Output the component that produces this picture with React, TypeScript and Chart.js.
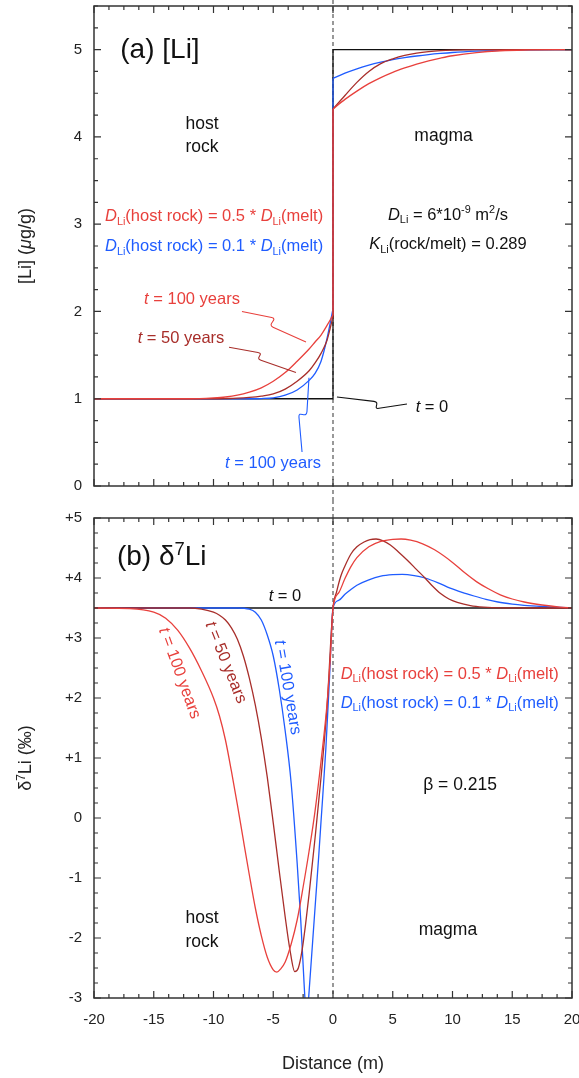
import React, { useEffect, useRef } from 'react';
import { Chart, registerables } from 'chart.js';

Chart.register(...registerables);

const FONT = '"Liberation Sans", Arial, Helvetica, sans-serif';
const RED = '#e8403c';
const DARK = '#a82e2a';
const BLUE = '#1f5cff';
const BLACK = '#111111';

// ---------- Panel (a): [Li] (µg/g) ----------
const liLeftX = [-20, -12, -10, -9, -8, -7, -6, -5, -4, -3, -2, -1.5, -1, -0.5, 0];
const liRed100Left = [1, 1, 1.01, 1.02, 1.04, 1.075, 1.125, 1.2, 1.3, 1.43, 1.57, 1.65, 1.73, 1.84, 1.96];
const liDark50Left = [1, 1, 1, 1.002, 1.006, 1.015, 1.03, 1.055, 1.11, 1.2, 1.32, 1.41, 1.52, 1.67, 1.94];
const liBlue100Left = [1, 1, 1, 1, 1, 1, 1.002, 1.01, 1.04, 1.1, 1.21, 1.29, 1.43, 1.69, 2.03];

const liRightX = [0, 1, 2, 3, 4, 5, 6, 7, 8, 9, 10, 12, 14, 16, 20];
const liRed100Right = [4.32, 4.43, 4.525, 4.61, 4.68, 4.74, 4.79, 4.835, 4.872, 4.903, 4.93, 4.966, 4.987, 4.996, 5];
const liDark50Right = [4.32, 4.475, 4.625, 4.75, 4.84, 4.895, 4.935, 4.96, 4.977, 4.988, 4.994, 4.999, 5, 5, 5];
const liBlue100Right = [4.67, 4.73, 4.78, 4.822, 4.856, 4.885, 4.908, 4.927, 4.943, 4.956, 4.967, 4.982, 4.992, 4.997, 5];

const liT0X = [-20, 0, 0, 20];
const liT0Y = [1, 1, 5, 5];

// ---------- Panel (b): δ7Li (‰) ----------
const dRedX = [-20, -17, -15, -14, -13, -12, -11, -10, -9.5, -9, -8.5, -8, -7.5, -7, -6.5, -6, -5.5, -5, -4.7, -4.4, -4, -3.5, -3, -2.5, -2, -1.5, -1, -0.5, -0.2, 0, 0.5, 1, 1.5, 2, 3, 4, 5, 5.7, 6.5, 7.5, 8.5, 10, 11, 12, 13, 14, 15, 16, 17.5, 19, 20];
const dRedY = [3.5, 3.49, 3.43, 3.33, 3.13, 2.83, 2.45, 2.0, 1.7, 1.3, 0.78, 0.22, -0.37, -0.95, -1.5, -1.96, -2.32, -2.53, -2.57, -2.52, -2.4, -2.1, -1.7, -1.15, -0.55, 0.12, 0.95, 1.9, 2.75, 3.5, 3.76, 3.99, 4.19, 4.34, 4.52, 4.61, 4.645, 4.65, 4.63, 4.57, 4.47, 4.26, 4.09, 3.94, 3.82, 3.72, 3.65, 3.6, 3.55, 3.515, 3.5];

const dDarkX = [-20, -12, -11, -10, -9.5, -9, -8.5, -8, -7.5, -7, -6.5, -6, -5.5, -5, -4.5, -4, -3.6, -3.2, -2.9, -2.6, -2.3, -2, -1.5, -1, -0.5, 0, 0.3, 0.65, 1, 1.5, 2, 2.6, 3.1, 3.6, 4.2, 4.8, 5.5, 6.2, 7, 7.7, 8.3, 9, 9.7, 10.4, 11.5, 12.6, 14, 20];
const dDarkY = [3.5, 3.5, 3.48, 3.43, 3.38, 3.3, 3.17, 2.98, 2.7, 2.33, 1.88, 1.33, 0.68, -0.08, -0.88, -1.65, -2.2, -2.56, -2.5, -2.22, -1.78, -1.27, -0.33, 0.68, 1.85, 3.5, 3.77, 4.03, 4.2, 4.4, 4.52, 4.6, 4.64, 4.65, 4.62, 4.55, 4.43, 4.3, 4.14, 4.0, 3.87, 3.74, 3.65, 3.595, 3.54, 3.515, 3.503, 3.5];

const dBlueX = [-20, -8, -7, -6.5, -6, -5.5, -5, -4.5, -4, -3.5, -3, -2.7, -2.5, -2.35, -2.22, -2.1, -1.95, -1.7, -1.45, -1.2, -1, -0.6, -0.3, 0, 0.5, 1, 1.5, 2, 3, 4, 5, 5.8, 6.8, 7.7, 8.8, 9.8, 10.8, 11.8, 12.8, 13.8, 15, 16, 17.5, 19, 20];
const dBlueY = [3.5, 3.5, 3.48, 3.43, 3.3, 3.05, 2.7, 2.15, 1.45, 0.58, -0.75, -1.7, -2.45, -3.0, -3.3, -3.15, -2.75, -2.05, -1.35, -0.65, -0.05, 1.15, 2.3, 3.5, 3.63, 3.73, 3.81, 3.88, 3.97, 4.03, 4.055, 4.06, 4.04, 4.0, 3.92, 3.83, 3.76, 3.7, 3.645, 3.6, 3.565, 3.545, 3.525, 3.51, 3.5];

const dT0X = [-20, 20];
const dT0Y = [3.5, 3.5];

// axis ranges / ticks
const xRange = [-20, 20];
const xLabelStep = 5;
const xMinorStep = 1.25;
const yRangeA = [0, 5.5];
const yRangeB = [-3, 5];
const yLabelStep = 1;
const yMinorStep = 0.25;

type Seg = { t: string; s?: 'i' | 'sub' | 'sup' };
type Note = { segs: Seg[]; x: number; y: number; size: number; color: string; align: 'left' | 'center'; rot?: number };
type Leader = { pts: number[][]; color: string };

const dHost = (f: string): Seg[] => [
  { t: 'D', s: 'i' }, { t: 'Li', s: 'sub' }, { t: `(host rock) = ${f} * ` }, { t: 'D', s: 'i' }, { t: 'Li', s: 'sub' }, { t: '(melt)' },
];
const tLab = (rest: string): Seg[] => [{ t: 't', s: 'i' }, { t: rest }];

const notesA: Note[] = [
  { segs: [{ t: '(a) [Li]' }], x: -17.8, y: 5.02, size: 28, color: BLACK, align: 'left' },
  { segs: [{ t: 'host' }], x: -10.96, y: 4.165, size: 17.5, color: BLACK, align: 'center' },
  { segs: [{ t: 'rock' }], x: -10.96, y: 3.9, size: 17.5, color: BLACK, align: 'center' },
  { segs: [{ t: 'magma' }], x: 9.25, y: 4.02, size: 17.5, color: BLACK, align: 'center' },
  { segs: [{ t: 'D', s: 'i' }, { t: 'Li', s: 'sub' }, { t: ' = 6*10' }, { t: '-9', s: 'sup' }, { t: ' m' }, { t: '2', s: 'sup' }, { t: '/s' }], x: 9.62, y: 3.12, size: 16.5, color: BLACK, align: 'center' },
  { segs: [{ t: 'K', s: 'i' }, { t: 'Li', s: 'sub' }, { t: '(rock/melt) = 0.289' }], x: 9.62, y: 2.78, size: 16.5, color: BLACK, align: 'center' },
  { segs: dHost('0.5'), x: -19.08, y: 3.1, size: 16.5, color: RED, align: 'left' },
  { segs: dHost('0.1'), x: -19.08, y: 2.76, size: 16.5, color: BLUE, align: 'left' },
  { segs: tLab(' = 100 years'), x: -11.8, y: 2.155, size: 16.5, color: RED, align: 'center' },
  { segs: tLab(' = 50 years'), x: -12.72, y: 1.71, size: 16.5, color: DARK, align: 'center' },
  { segs: tLab(' = 100 years'), x: -5.02, y: 0.278, size: 16.5, color: BLUE, align: 'center' },
  { segs: tLab(' = 0'), x: 6.92, y: 0.915, size: 16.5, color: BLACK, align: 'left' },
];

const leadersA: Leader[] = [
  { pts: [[-7.62, 2.0], [-5.13, 1.93], [-5.02, 1.82], [-2.26, 1.65]], color: RED },
  { pts: [[-8.7, 1.59], [-6.28, 1.53], [-6.03, 1.44], [-3.1, 1.3]], color: DARK },
  { pts: [[0.33, 1.02], [3.43, 0.97], [3.85, 0.89], [6.19, 0.94]], color: BLACK },
  { pts: [[-2.59, 0.39], [-2.85, 0.79], [-2.18, 0.85], [-2.01, 1.24]], color: BLUE },
];

const notesB: Note[] = [
  { segs: [{ t: '(b) δ' }, { t: '7', s: 'sup' }, { t: 'Li' }], x: -18.08, y: 4.38, size: 28, color: BLACK, align: 'left' },
  { segs: tLab(' = 0'), x: -4.02, y: 3.72, size: 16.5, color: BLACK, align: 'center' },
  { segs: tLab(' = 100 years'), x: -12.74, y: 2.42, size: 16.5, color: RED, align: 'center', rot: 70 },
  { segs: tLab(' = 50 years'), x: -8.87, y: 2.6, size: 16.5, color: DARK, align: 'center', rot: 68 },
  { segs: tLab(' = 100 years'), x: -3.68, y: 2.18, size: 16.5, color: BLUE, align: 'center', rot: 80 },
  { segs: dHost('0.5'), x: 0.64, y: 2.42, size: 16.5, color: RED, align: 'left' },
  { segs: dHost('0.1'), x: 0.64, y: 1.94, size: 16.5, color: BLUE, align: 'left' },
  { segs: [{ t: 'β = 0.215' }], x: 10.63, y: 0.57, size: 17.5, color: BLACK, align: 'center' },
  { segs: [{ t: 'host' }], x: -10.96, y: -1.65, size: 17.5, color: BLACK, align: 'center' },
  { segs: [{ t: 'rock' }], x: -10.96, y: -2.05, size: 17.5, color: BLACK, align: 'center' },
  { segs: [{ t: 'magma' }], x: 9.62, y: -1.85, size: 17.5, color: BLACK, align: 'center' },
];

function drawRich(ctx: CanvasRenderingContext2D, segs: Seg[], x: number, y: number, size: number, color: string, align: 'left' | 'center') {
  ctx.save();
  ctx.fillStyle = color;
  ctx.textBaseline = 'alphabetic';
  ctx.textAlign = 'left';
  const parts = segs.map((seg) => {
    const small = seg.s === 'sub' || seg.s === 'sup';
    const sz = small ? size * 0.66 : size;
    const font = `${seg.s === 'i' ? 'italic ' : ''}${sz}px ${FONT}`;
    ctx.font = font;
    const dy = seg.s === 'sub' ? size * 0.22 : seg.s === 'sup' ? -size * 0.38 : 0;
    return { seg, font, w: ctx.measureText(seg.t).width, dy };
  });
  const total = parts.reduce((a, p) => a + p.w, 0);
  let cx = align === 'center' ? x - total / 2 : x;
  const base = y + size * 0.36;
  for (const p of parts) {
    ctx.font = p.font;
    ctx.fillText(p.seg.t, cx, base + p.dy);
    cx += p.w;
  }
  ctx.restore();
}

type PanelCfg = {
  id: string;
  yMin: number;
  yMax: number;
  dashToCanvasBottom: boolean;
  notes: Note[];
  leaders: Leader[];
  yTitle: Seg[];
  xTitle?: string;
};

function makePlugin(cfg: PanelCfg) {
  return {
    id: 'deco' + cfg.id,
    beforeDatasetsDraw(chart: any) {
      const ctx: CanvasRenderingContext2D = chart.ctx;
      const xs = chart.scales.x;
      const x0 = xs.getPixelForValue(0);
      ctx.save();
      ctx.strokeStyle = '#555';
      ctx.lineWidth = 1.2;
      ctx.setLineDash([4, 3]);
      ctx.beginPath();
      ctx.moveTo(x0, 0);
      ctx.lineTo(x0, cfg.dashToCanvasBottom ? chart.height : chart.chartArea.bottom);
      ctx.stroke();
      ctx.restore();
    },
    afterDraw(chart: any) {
      const ctx: CanvasRenderingContext2D = chart.ctx;
      const xs = chart.scales.x;
      const ys = chart.scales.y;
      const { left, right, top, bottom } = chart.chartArea;
      ctx.save();
      ctx.strokeStyle = '#333';
      ctx.lineWidth = 1.5;
      ctx.strokeRect(left, top, right - left, bottom - top);
      ctx.lineWidth = 1.2;
      ctx.beginPath();
      for (let v = xRange[0]; v <= xRange[1] + 1e-9; v += xMinorStep) {
        const px = xs.getPixelForValue(v);
        const major = Math.abs(v / xLabelStep - Math.round(v / xLabelStep)) < 1e-6;
        const L = major ? 7 : 4;
        ctx.moveTo(px, bottom); ctx.lineTo(px, bottom - L);
        ctx.moveTo(px, top); ctx.lineTo(px, top + L);
      }
      for (let v = cfg.yMin; v <= cfg.yMax + 1e-9; v += yMinorStep) {
        const py = ys.getPixelForValue(v);
        const major = Math.abs(v / yLabelStep - Math.round(v / yLabelStep)) < 1e-6;
        const L = major ? 7 : 4;
        ctx.moveTo(left, py); ctx.lineTo(left + L, py);
        ctx.moveTo(right, py); ctx.lineTo(right - L, py);
      }
      ctx.stroke();

      // leaders with a squiggle break
      for (const ld of cfg.leaders) {
        const p = ld.pts.map((q) => [xs.getPixelForValue(q[0]), ys.getPixelForValue(q[1])]);
        const [S, A, B, E] = p;
        const n1 = Math.hypot(A[0] - S[0], A[1] - S[1]) || 1;
        const d1 = [(A[0] - S[0]) / n1, (A[1] - S[1]) / n1];
        const n2 = Math.hypot(E[0] - B[0], E[1] - B[1]) || 1;
        const d2 = [(E[0] - B[0]) / n2, (E[1] - B[1]) / n2];
        const k = 7;
        ctx.strokeStyle = ld.color;
        ctx.lineWidth = 1.1;
        ctx.beginPath();
        ctx.moveTo(S[0], S[1]);
        ctx.lineTo(A[0], A[1]);
        ctx.bezierCurveTo(A[0] + d1[0] * k, A[1] + d1[1] * k, B[0] - d2[0] * k, B[1] - d2[1] * k, B[0], B[1]);
        ctx.lineTo(E[0], E[1]);
        ctx.stroke();
      }
      ctx.restore();

      for (const n of cfg.notes) {
        const px = xs.getPixelForValue(n.x);
        const py = ys.getPixelForValue(n.y);
        if (n.rot) {
          ctx.save();
          ctx.translate(px, py);
          ctx.rotate((n.rot * Math.PI) / 180);
          drawRich(ctx, n.segs, 0, 0, n.size, n.color, n.align);
          ctx.restore();
        } else {
          drawRich(ctx, n.segs, px, py, n.size, n.color, n.align);
        }
      }

      // axis titles
      ctx.save();
      ctx.translate(left - 69, (top + bottom) / 2);
      ctx.rotate(-Math.PI / 2);
      drawRich(ctx, cfg.yTitle, 0, 0, 18, '#222', 'center');
      ctx.restore();
      if (cfg.xTitle) {
        drawRich(ctx, [{ t: cfg.xTitle }], (left + right) / 2, bottom + 65, 18, '#222', 'center');
      }
    },
  };
}

const mk = (xs: number[], ys: number[], color: string, mono = true) => ({
  data: xs.map((x, i) => ({ x, y: ys[i] })),
  borderColor: color,
  borderWidth: 1.3,
  pointRadius: 0,
  fill: false,
  cubicInterpolationMode: mono ? 'monotone' : 'default',
  tension: 0,
});

const jump = (a: number[], b: number[], color: string) =>
  mk([0, 0], [a[a.length - 1], b[0]], color, false);

const tickFont = { family: FONT, size: 15 };

function baseOptions(yMin: number, yMax: number, showX: boolean, xHeight: number, padTop: number, yFmt: (v: number) => string) {
  return {
    responsive: false,
    animation: false,
    events: [],
    layout: { padding: { top: padTop, right: 7, left: 0, bottom: 0 } },
    plugins: { legend: { display: false }, tooltip: { enabled: false }, title: { display: false } },
    scales: {
      x: {
        type: 'linear',
        min: xRange[0],
        max: xRange[1],
        grid: { display: false, drawTicks: false },
        border: { display: false },
        ticks: { display: showX, stepSize: xLabelStep, padding: 13, color: '#222', font: tickFont, maxRotation: 0, autoSkip: false },
        afterFit: (s: any) => { s.height = xHeight; s.paddingLeft = 0; s.paddingRight = 0; },
      },
      y: {
        type: 'linear',
        min: yMin,
        max: yMax,
        grid: { display: false, drawTicks: false },
        border: { display: false },
        ticks: { stepSize: yLabelStep, includeBounds: false, padding: 12, color: '#222', font: tickFont, callback: (v: any) => yFmt(Number(v)) },
        afterFit: (s: any) => { s.width = 94; s.paddingTop = 0; s.paddingBottom = 0; },
      },
    },
  };
}

export default function App() {
  const ref1 = useRef<HTMLCanvasElement>(null);
  const ref2 = useRef<HTMLCanvasElement>(null);

  useEffect(() => {
    const c1 = new Chart(ref1.current as HTMLCanvasElement, {
      type: 'line',
      data: {
        datasets: [
          mk(liLeftX, liRed100Left, RED),
          jump(liRed100Left, liRed100Right, RED),
          mk(liRightX, liRed100Right, RED),
          mk(liLeftX, liDark50Left, DARK),
          jump(liDark50Left, liDark50Right, DARK),
          mk(liRightX, liDark50Right, DARK),
          mk(liLeftX, liBlue100Left, BLUE),
          jump(liBlue100Left, liBlue100Right, BLUE),
          mk(liRightX, liBlue100Right, BLUE),
          mk(liT0X, liT0Y, BLACK, false),
        ] as any,
      },
      options: baseOptions(yRangeA[0], yRangeA[1], false, 14, 6, (v) => String(v)) as any,
      plugins: [
        makePlugin({
          id: 'a', yMin: yRangeA[0], yMax: yRangeA[1], dashToCanvasBottom: true,
          notes: notesA, leaders: leadersA,
          yTitle: [{ t: '[Li] (' }, { t: 'μ', s: 'i' }, { t: 'g/g)' }],
        }),
      ] as any,
    });

    const c2 = new Chart(ref2.current as HTMLCanvasElement, {
      type: 'line',
      data: {
        datasets: [
          mk(dRedX, dRedY, RED),
          mk(dDarkX, dDarkY, DARK),
          mk(dBlueX, dBlueY, BLUE),
          mk(dT0X, dT0Y, BLACK, false),
        ] as any,
      },
      options: baseOptions(yRangeB[0], yRangeB[1], true, 80, 18, (v) => (v > 0 ? '+' + v : String(v))) as any,
      plugins: [
        makePlugin({
          id: 'b', yMin: yRangeB[0], yMax: yRangeB[1], dashToCanvasBottom: false,
          notes: notesB, leaders: [],
          yTitle: [{ t: 'δ' }, { t: '7', s: 'sup' }, { t: 'Li (‰)' }],
          xTitle: 'Distance (m)',
        }),
      ] as any,
    });

    return () => {
      c1.destroy();
      c2.destroy();
    };
  }, []);

  return (
    <div style={{ position: 'absolute', left: 0, top: 0, width: 579, height: 1078, background: '#fff' }}>
      <canvas ref={ref1} width={579} height={500} style={{ position: 'absolute', left: 0, top: 0 }} />
      <canvas ref={ref2} width={579} height={578} style={{ position: 'absolute', left: 0, top: 500 }} />
    </div>
  );
}
